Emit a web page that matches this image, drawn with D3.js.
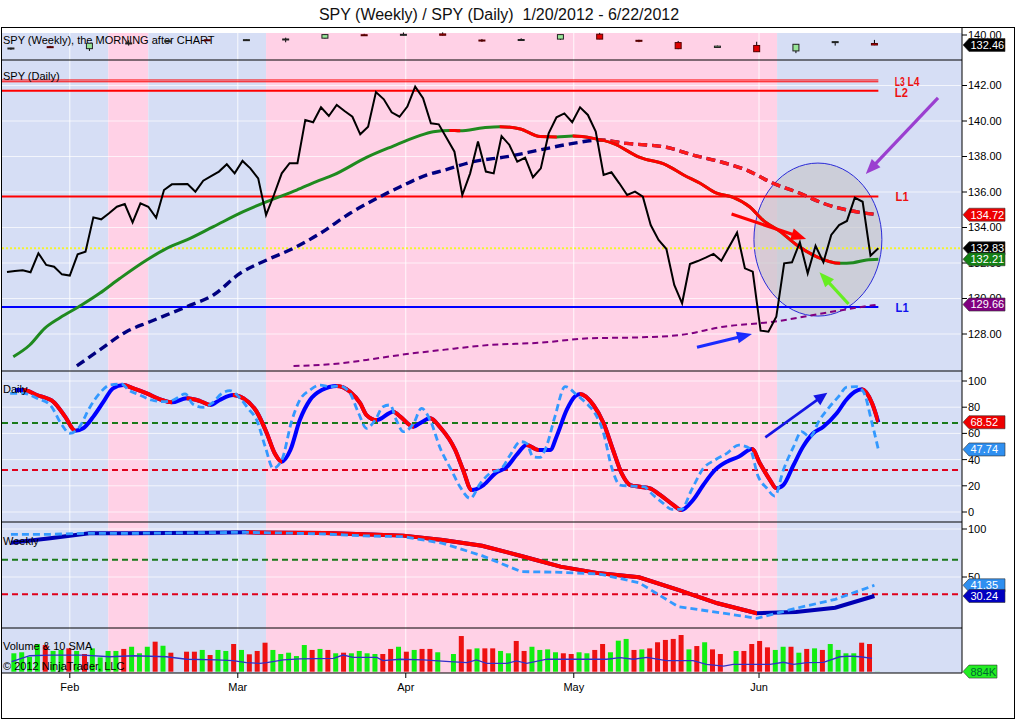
<!DOCTYPE html>
<html><head><meta charset="utf-8"><title>SPY Weekly / Daily</title>
<script src="https://cdn.jsdelivr.net/npm/d3@7/dist/d3.min.js"></script>
<style>
html,body{margin:0;padding:0;background:#fff}
svg{display:block}
text{font-family:"Liberation Sans",Arial,sans-serif;}
</style></head>
<body>
<svg id="chart" width="1016" height="720"></svg>
<script>
// ================= DATA =================
// daily closes per bar slot (null = empty slot on holidays)
const closes=[131.49,131.55,131.59,131.48,132.55,131.89,131.79,131.36,131.29,132.49,
132.64,134.57,134.46,134.80,135.17,135.32,134.29,135.36,135.17,134.55,
136.11,136.43,null,136.45,136.02,136.64,136.90,137.15,137.56,137.05,
137.75,137.33,136.77,134.70,135.83,137.05,137.62,137.62,140.06,139.93,
140.77,140.28,140.90,140.56,140.24,139.25,139.68,141.63,141.22,140.49,
140.24,140.81,141.93,141.28,139.87,139.81,null,138.27,135.83,137.05,
138.84,137.15,137.05,139.15,138.65,137.71,137.93,136.83,137.33,139.30,
140.21,140.43,139.93,140.77,140.34,139.40,136.96,137.11,136.49,135.83,
136.02,135.74,134.14,133.30,132.79,130.76,129.73,131.94,132.11,132.30,
132.51,132.13,null,133.71,131.70,131.51,128.19,128.13,128.97,131.98,
132.04,133.17,131.42,132.97,132.04,133.58,134.14,134.37,135.68,135.45,
132.41,132.83];

// moving averages: [slot, value]
const maSolid=[[0.8,126.72],[2.9,127.38],[4.8,128.32],[6.75,128.92],[9.5,129.63],[11.8,130.29],[14.4,131.14],[17.8,132.17],[20.8,132.92],[22.9,133.30],[26.3,134.05],[30.1,134.89],[33.1,135.46],[36.9,136.11],[39.4,136.58],[41.6,136.96],[45.8,137.95],[49.2,138.59],[52.2,139.12],[54.3,139.40],[56.4,139.47],[57.7,139.45],[60.7,139.62],[62.8,139.68],[65.4,139.55],[67.9,139.12],[70,139.10],[72.1,139.15],[74.7,139.02],[77.2,138.74],[80.6,137.95],[84.0,137.52],[86.2,136.96],[88.3,136.49],[90.4,135.93],[92.5,135.70],[94.6,135.17],[96.3,134.42],[98.5,133.77],[100.6,133.01],[103.1,132.36],[106.1,131.98],[107.8,132.02],[109.5,132.17],[111,132.21]];
const maDashed=[[8.9,126.20],[11.8,127.10],[15.2,128.13],[18.2,128.69],[22.9,129.54],[26.3,130.20],[29.7,131.42],[33.1,132.17],[36.5,132.83],[39.9,133.67],[43.7,134.80],[47.1,135.64],[50.1,136.30],[53.5,136.96],[55.8,137.24],[59.4,137.71],[63.7,137.99],[67.9,138.37],[72.1,138.74],[75.5,138.93],[78.9,138.74],[84.0,138.52],[87.4,138.08],[90.8,137.71],[94.2,137.24],[97.6,136.49],[101.0,135.93],[104.0,135.36],[107.4,134.95],[111,134.72]];
const maLong=[[36.5,126.20],[41.6,126.31],[45.8,126.54],[50.1,126.82],[55.8,127.12],[61.5,127.38],[67.9,127.51],[74.3,127.76],[80.6,127.81],[85.7,127.94],[91.3,128.41],[97.6,128.69],[104.0,129.17],[110.0,129.60],[111,129.66]];

// horizontal levels
const levelNames=["L3","L4","L2","L1","L1"];
const levelPrices=[142.31,142.21,141.71,135.74,129.52];
const lastClose=132.83;

// daily stochastics [slot, value]
const dailyD=[[1.0,93.1],[2.1,93.1],[3.8,89.3],[5.9,84.2],[7.4,72.8],[8.7,62.1],[9.7,63.9],[11.0,72.8],[12.3,84.2],[13.5,94.4],[14.8,96.9],[16.1,94.4],[17.8,90.6],[19.5,86.0],[21.0,83.7],[22.9,86.8],[24.6,84.7],[25.9,81.7],[27.1,85.5],[28.8,89.3],[30.1,86.8],[31.8,76.6],[33.1,60.1],[34.1,44.8],[35.0,38.4],[36.1,47.3],[37.3,70.2],[38.6,85.5],[40.1,93.1],[42.0,96.2],[43.7,91.8],[45.0,83.0],[45.8,74.0],[47.1,70.2],[49.2,76.6],[50.1,72.8],[51.8,65.1],[52.6,67.7],[53.9,71.5],[55.2,64.5],[57.1,47.3],[58.1,32.1],[59.2,16.8],[60.7,20.6],[62.2,29.5],[63.7,34.6],[64.9,43.5],[66.2,51.1],[67.7,47.3],[69.2,47.3],[70.0,57.5],[71.3,77.9],[72.4,88.5],[73.0,90.1],[74.7,81.7],[76.0,67.7],[77.2,47.3],[78.3,29.5],[79.4,20.6],[80.6,19.3],[81.9,18.1],[83.2,13.0],[84.9,5.3],[85.9,1.5],[87.4,9.2],[88.7,20.6],[90.2,32.1],[91.7,38.4],[93.2,42.2],[94.9,48.1],[95.9,37.2],[97.2,24.4],[98.0,18.1],[98.9,20.6],[100.2,35.9],[101.4,49.8],[102.7,60.1],[104.0,65.1],[105.7,75.3],[106.9,85.5],[108.0,91.8],[108.9,93.7],[110.2,83.0],[111,68.52]];
const dailyK=[[0.4,90.6],[2.1,90.6],[3.8,86.8],[5.5,81.7],[7.0,66.4],[8.0,60.1],[9.1,63.9],[10.6,80.4],[11.8,90.6],[13.1,96.9],[14.6,97.7],[15.5,93.1],[16.9,89.3],[18.4,85.5],[19.9,84.2],[21.2,85.5],[22.7,90.1],[23.7,82.2],[25.0,79.9],[26.1,83.0],[27.4,90.6],[28.4,92.6],[29.7,86.8],[30.7,79.1],[31.8,70.2],[32.9,49.8],[33.9,33.3],[35.0,39.7],[36.3,70.2],[37.3,85.5],[38.6,93.1],[39.9,96.9],[41.1,95.7],[42.4,96.2],[43.7,90.6],[44.8,75.3],[45.8,63.9],[46.9,70.2],[47.9,80.4],[48.8,81.7],[49.6,70.2],[50.5,61.3],[51.8,67.7],[52.8,79.1],[53.9,70.2],[55.2,48.5],[56.6,32.1],[57.7,19.3],[59.0,10.4],[60.3,21.9],[61.5,29.5],[63.0,33.3],[64.1,43.5],[65.4,53.7],[66.2,52.4],[67.0,42.2],[67.9,41.7],[68.7,49.8],[69.8,72.8],[71.1,95.7],[72.6,89.3],[73.8,83.0],[74.9,75.3],[76.0,60.1],[77.0,34.6],[78.1,20.6],[79.6,19.8],[81.1,19.3],[82.3,13.0],[83.6,6.6],[84.7,2.0],[85.9,2.0],[87.2,16.8],[88.7,33.3],[90.2,39.7],[91.7,44.8],[93.2,51.1],[94.6,48.6],[95.7,27.0],[96.8,18.1],[97.8,12.2],[98.9,32.1],[100.2,49.8],[101.2,61.3],[102.3,57.5],[103.5,70.2],[104.8,80.4],[106.1,89.3],[106.9,95.2],[108.2,95.7],[109.1,91.8],[110.2,67.7],[111,47.74]];

// weekly bars (slot positions) and weekly stochastics
const weeklySlots=[0.5,5.5,10.5,15.5,20.5,25.5,30.5,35.5,40.5,45.5,50.5,55.5,60.5,65.5,70.5,75.5,80.5,85.5,90.5,95.5,100.5,105.5,110.5];
const weeklyD=[85.7,90.3,95.5,95.5,95.8,96.2,96.5,96.2,95.8,94.5,93.1,88.5,82.6,71.9,60.8,53.8,49.7,36.5,22.6,12.2,13.5,18.0,30.24];
const weeklyK=[94.5,94.5,95.5,95.5,95.8,96.2,96.5,95.8,94.8,92.8,92.0,85.1,72.2,55.6,54.9,53.1,44.1,19.1,13.2,7.0,17.4,26.7,41.35];
const wOpen =[129.6,131.2,129.7,133.5,135.2,136.4,136.0,137.0,137.6,140.2,140.5,140.8,136.2,136.6,136.9,140.6,136.0,134.3,130.6,132.1,128.0,134.9,133.6];
const wHigh =[130.4,131.8,133.9,136.0,135.8,136.6,136.7,138.0,140.7,140.9,141.9,142.0,137.0,137.5,140.5,141.6,136.4,135.5,132.0,134.9,133.2,135.1,136.3];
const wLow  =[128.8,130.5,128.0,132.0,134.8,136.0,135.8,134.5,137.3,139.3,139.5,139.6,134.8,135.5,136.3,136.8,134.6,129.3,130.3,127.4,126.3,132.0,132.3];
const wClose=[130.2,131.0,133.8,134.0,135.6,136.2,136.5,137.0,140.3,139.7,140.5,139.8,136.0,136.6,140.3,136.9,135.7,129.7,131.6,127.4,133.0,135.0,132.46];

// volume (millions) per slot, up(1)/down(0), and 10 SMA [slot, value]
const volumes=[null,127,134,103,191,184,143,150,161,143,
122,161,99,143,143,157,172,127,172,207,
179,131,null,138,138,150,115,150,143,191,
150,120,143,200,150,122,131,108,184,150,
157,150,127,131,127,143,127,122,122,157,
172,138,150,157,157,134,null,122,246,154,
161,161,161,143,127,212,143,172,150,154,
134,127,122,134,127,150,191,134,214,226,
150,154,161,203,219,226,253,154,177,203,
154,122,null,143,143,191,212,168,150,172,
172,131,157,161,150,191,150,127,127,200,
191,0.884];
const volumeUp=[0,1,1,1,1,0,1,1,0,1, 0,1,1,1,1,0,1,1,1,0, 1,0,0,0,0,1,0,1,1,0, 1,0,0,0,1,1,1,1,1,0, 1,0,1,0,1,1,1,1,0,0, 1,0,1,0,0,1,0,1,0,0, 1,0,0,1,1,0,0,1,1,1, 1,0,0,1,1,0,0,1,1,1, 0,1,0,0,0,0,0,1,0,1, 0,0,0,1,0,0,0,0,1,1, 0,1,0,1,0,1,1,1,1,0, 0,1];
const volSma=[[0.6,69],[2.9,110],[5.5,115],[9.7,115],[13.1,103],[16.1,110],[20.3,103],[22.9,86],[26.7,81],[28.8,76],[30.5,62],[32.2,58],[33.1,62],[35.2,81],[37.3,88],[41.6,92],[42.8,115],[44.1,99],[47.1,99],[47.9,76],[50.1,86],[53.0,81],[56.4,69],[58.6,62],[59.8,81],[61.1,58],[63.7,58],[64.9,74],[66.2,58],[68.8,86],[72.1,86],[76.4,86],[78.1,97],[79.8,86],[81.5,99],[84.0,76],[87.4,76],[89.1,51],[91.3,39],[92.5,51],[95.5,51],[97.2,51],[98.9,65],[100.2,51],[101.9,62],[104.0,65],[106.1,103],[107.4,108],[108.7,103],[110.2,92]];

// axis ticks / labels
const monthLabels=["Feb","Mar","Apr","May","Jun"];
const monthSlots=[8.0,29.4,50.8,72.2,95.8];
const priceTicks=[142,140,138,136,134,132,130,128];
const dailyTicks=[100,80,60,40,20,0];
const weeklyTicks=[100,50];
const stochLevels=[68,32];
const bandSlots=[12.9,18.0,33.0,98.1];

// annotations (data coordinates)
const mainArrows=[
 {from:[92.3,134.76],to:[101.8,133.35],color:"#ff0000"},
 {from:[107.2,129.69],to:[103.5,131.48],color:"#66ee22"},
 {from:[87.9,127.25],to:[94.9,128.0],color:"#1a2cff"},
 {from:[118.6,141.30],to:[109.4,137.01],color:"#9b3fd0"}
];
const dailyArrow={from:[96.6,57.0],to:[104.5,91.1],color:"#1414e6"};
const circleCenter=[103.3,133.32], circleRadius=[8.15,4.31];

// ================= DRAWING =================
const svg=d3.select("#chart");
const defs=svg.append("defs");
const PL=2, PR=962;
const x=d3.scaleLinear().domain([0,111]).range([7,878.35]);
const yP=d3.scaleLinear().domain([140,128]).range([121,334]);
const yD=d3.scaleLinear().domain([100,0]).range([381,512]);
const yW=d3.scaleLinear().domain([100,50]).range([529,577]);
const yV=d3.scaleLinear().domain([0,300]).range([671.7,628.2]);
const yT=d3.scaleLinear().domain([140,132.46]).range([35,45]);

svg.append("rect").attr("width",1016).attr("height",720).attr("fill","#fff");

svg.append("text").attr("x",499).attr("y",20).attr("text-anchor","middle")
  .attr("font-size",16).attr("fill","#111").attr("xml:space","preserve").style("white-space","pre")
  .text("SPY (Weekly) / SPY (Daily)  1/20/2012 - 6/22/2012");

const bandColor=["#d6def5","#ffd1e6"];
function bands(y0,y1){
  const e=[-10,...bandSlots,200];
  for(let i=0;i<e.length-1;i++){
    const a=Math.max(PL,x(e[i])), b=Math.min(PR,x(e[i+1]));
    if(b>a) svg.append("rect").attr("x",a).attr("y",y0).attr("width",b-a).attr("height",y1-y0).attr("fill",bandColor[i%2]);
  }
  monthSlots.forEach(s=>svg.append("line").attr("x1",x(s)).attr("x2",x(s)).attr("y1",y0).attr("y2",y1).attr("stroke","#fff").attr("stroke-opacity",0.85).attr("stroke-width",1));
}
function hgrid(vals,sc){
  vals.forEach(v=>svg.append("line").attr("x1",PL).attr("x2",PR).attr("y1",sc(v)).attr("y2",sc(v)).attr("stroke","#fff").attr("stroke-opacity",0.7).attr("stroke-width",1));
}
let clipN=0;
function panelGroup(y0,y1){
  const id="pc"+(clipN++);
  defs.append("clipPath").attr("id",id).append("rect").attr("x",PL).attr("y",y0).attr("width",PR-PL).attr("height",y1-y0);
  return svg.append("g").attr("clip-path",`url(#${id})`);
}
function twoTone(g,nodes,ys,upC,dnC,w,dash,y0,y1,curve){
  const line=d3.line().x(d=>x(d[0])).y(d=>ys(d[1])).curve(curve||d3.curveMonotoneX);
  const d=line(nodes);
  const p=g.append("path").attr("d",d).attr("fill","none").attr("stroke",upC).attr("stroke-width",w);
  if(dash) p.attr("stroke-dasharray",dash);
  const id="tt"+(clipN++);
  const cp=defs.append("clipPath").attr("id",id);
  for(let i=1;i<nodes.length;i++){
    if(nodes[i][1]<nodes[i-1][1]){
      const a=x(nodes[i-1][0]), b=x(nodes[i][0]);
      cp.append("rect").attr("x",a-0.3).attr("y",y0).attr("width",b-a+0.6).attr("height",y1-y0);
    }
  }
  const q=g.append("path").attr("d",d).attr("fill","none").attr("stroke",dnC).attr("stroke-width",w).attr("clip-path",`url(#${id})`);
  if(dash) q.attr("stroke-dasharray",dash);
}
function arrow(g,x1,y1,x2,y2,color,w,hl,hw){
  const dx=x2-x1, dy=y2-y1, len=Math.hypot(dx,dy), ux=dx/len, uy=dy/len;
  const bx=x2-ux*hl, by=y2-uy*hl;
  g.append("line").attr("x1",x1).attr("y1",y1).attr("x2",bx+ux).attr("y2",by+uy).attr("stroke",color).attr("stroke-width",w);
  g.append("path").attr("d",`M${x2},${y2}L${bx-uy*hw/2},${by+ux*hw/2}L${bx+uy*hw/2},${by-ux*hw/2}Z`).attr("fill",color);
}
function axisTicks(vals,sc,fmt){
  vals.forEach(v=>{
    const y=sc(v);
    svg.append("line").attr("x1",PR).attr("x2",PR+5).attr("y1",y).attr("y2",y).attr("stroke","#000");
    svg.append("text").attr("x",PR+6).attr("y",y).attr("dy","0.36em").attr("font-size",11).attr("fill","#000").text(fmt(v));
  });
}
function tag(y,txt,fill,tc,right){
  right=right||1005;
  svg.append("path").attr("d",`M963,${y}L969,${y-6.5}L${right},${y-6.5}L${right},${y+6.5}L969,${y+6.5}Z`)
    .attr("fill",fill).attr("stroke","#333").attr("stroke-width",0.6);
  svg.append("text").attr("x",970.5).attr("y",y).attr("dy","0.36em").attr("font-size",11).attr("fill",tc).text(txt);
}
function label(xp,yp,t){
  svg.append("text").attr("x",xp).attr("y",yp).attr("font-size",11).attr("fill","#000").text(t);
}

// ---------- top panel: weekly candles ----------
bands(33,60);
{
  label(3,44,"SPY (Weekly), the MORNING after CHART");
  const g=panelGroup(27,60);
  weeklySlots.forEach((s,i)=>{
    const cx=x(s), up=wClose[i]>=wOpen[i];
    g.append("line").attr("x1",cx).attr("x2",cx).attr("y1",yT(wHigh[i])).attr("y2",yT(wLow[i])).attr("stroke","#000").attr("stroke-width",1);
    const top=yT(Math.max(wOpen[i],wClose[i])), bot=yT(Math.min(wOpen[i],wClose[i]));
    const h=Math.max(1,bot-top);
    g.append("rect").attr("x",cx-3).attr("y",top).attr("width",6).attr("height",h)
      .attr("fill",up?"#98e698":"#e00000").attr("stroke",up?"#222":"#500").attr("stroke-width",1);
  });
}

// ---------- main panel ----------
bands(60,371);
hgrid(priceTicks,yP);
{
  const g=panelGroup(60,371);
  // circle highlight
  g.append("ellipse").attr("cx",x(circleCenter[0])).attr("cy",yP(circleCenter[1]))
    .attr("rx",x(circleCenter[0]+circleRadius[0])-x(circleCenter[0]))
    .attr("ry",yP(circleCenter[1]-circleRadius[1])-yP(circleCenter[1]))
    .attr("fill","rgba(200,200,205,0.7)").attr("stroke","#2a2ad8").attr("stroke-width",1);
  // level lines
  const lw=[1,1,2,2,2], lc=["#ff0000","#ff0000","#ff0000","#ff0000","#0000ff"];
  levelPrices.forEach((p,i)=>g.append("line").attr("x1",PL).attr("x2",x(111)).attr("y1",yP(p)).attr("y2",yP(p)).attr("stroke",lc[i]).attr("stroke-width",lw[i]));
  g.append("line").attr("x1",PL).attr("x2",PR).attr("y1",yP(lastClose)).attr("y2",yP(lastClose))
    .attr("stroke","#f2f230").attr("stroke-width",2).attr("stroke-dasharray","2,2");
  // moving averages
  g.append("path").attr("d",d3.line().x(d=>x(d[0])).y(d=>yP(d[1])).curve(d3.curveMonotoneX)(maLong))
    .attr("fill","none").attr("stroke","#800080").attr("stroke-width",2).attr("stroke-dasharray","6,4");
  twoTone(g,maDashed,yP,"#000080","#ff1a1a",3.4,"9,5",60,371);
  twoTone(g,maSolid,yP,"#1f8a1f","#ff0000",3,null,60,371);
  // price
  const pts=closes.map((v,i)=>[i,v]).filter(d=>d[1]!=null);
  g.append("path").attr("d",d3.line().x(d=>x(d[0])).y(d=>yP(d[1]))(pts))
    .attr("fill","none").attr("stroke","#000").attr("stroke-width",2);
  // arrows
  mainArrows.forEach(a=>arrow(g,x(a.from[0]),yP(a.from[1]),x(a.to[0]),yP(a.to[1]),a.color,3.2,15,12));
  // level labels
  const lx=[113.1,114.7,113.1,113.2,113.2], ly=[142.25,142.25,141.60,135.74,129.52];
  const tc=["#ee1111","#ee1111","#ee1111","#ee1111","#1010ee"];
  const fs=[13,13,13,13,13], tl=[10,12,13,13,13];
  levelNames.forEach((n,i)=>g.append("text").attr("x",x(lx[i])).attr("y",yP(ly[i])).attr("dy","0.36em")
    .attr("font-size",fs[i]).attr("font-weight","bold").attr("fill",tc[i])
    .attr("textLength",tl[i]).attr("lengthAdjust","spacingAndGlyphs").text(n));
  label(3,80,"SPY (Daily)");
}

// ---------- daily stochastics ----------
bands(371,522);
hgrid(dailyTicks,yD);
{
  const g=panelGroup(371,522);
  const lc=["#1a7a1a","#e0001b"];
  stochLevels.forEach((v,i)=>g.append("line").attr("x1",PL).attr("x2",PR).attr("y1",yD(v)).attr("y2",yD(v)).attr("stroke",lc[i]).attr("stroke-width",2).attr("stroke-dasharray","6,4"));
  twoTone(g,dailyD,yD,"#0000ff","#ff0000",4,null,371,522);
  g.append("path").attr("d",d3.line().x(d=>x(d[0])).y(d=>yD(d[1])).curve(d3.curveMonotoneX)(dailyK))
    .attr("fill","none").attr("stroke","#3399ff").attr("stroke-width",2.8).attr("stroke-dasharray","7,4");
  arrow(g,x(dailyArrow.from[0]),yD(dailyArrow.from[1]),x(dailyArrow.to[0]),yD(dailyArrow.to[1]),dailyArrow.color,2.6,13,12);
  label(3,393,"Daily");
}

// ---------- weekly stochastics ----------
bands(522,628);
hgrid(weeklyTicks,yW);
{
  const g=panelGroup(522,628);
  const lc=["#1a7a1a","#e0001b"];
  stochLevels.forEach((v,i)=>g.append("line").attr("x1",PL).attr("x2",PR).attr("y1",yW(v)).attr("y2",yW(v)).attr("stroke",lc[i]).attr("stroke-width",2).attr("stroke-dasharray","6,4"));
  const dn=weeklySlots.map((s,i)=>[s,weeklyD[i]]);
  const kn=weeklySlots.map((s,i)=>[s,weeklyK[i]]);
  twoTone(g,dn,yW,"#0000b4","#ff0000",4,null,522,628,d3.curveLinear);
  g.append("path").attr("d",d3.line().x(d=>x(d[0])).y(d=>yW(d[1]))(kn))
    .attr("fill","none").attr("stroke","#3399ff").attr("stroke-width",2.8).attr("stroke-dasharray","7,4");
  label(3,545,"Weekly");
}

// ---------- volume ----------
bands(628,673);
{
  const g=panelGroup(628,673);
  volumes.forEach((v,i)=>{
    if(v==null) return;
    g.append("rect").attr("x",x(i)-3.5).attr("y",yV(v)).attr("width",5).attr("height",yV(0)-yV(v))
      .attr("fill",volumeUp[i]?"#11ee11":"#ee1111");
  });
  g.append("path").attr("d",d3.line().x(d=>x(d[0])).y(d=>yV(d[1]))(volSma))
    .attr("fill","none").attr("stroke","#3030c8").attr("stroke-width",1.3);
  label(3,650,"Volume & 10 SMA");
  label(3,670,"© 2012 NinjaTrader, LLC");
}

// ---------- frame, separators, axes ----------
[60,371,522,628,673].forEach(y=>svg.append("line").attr("x1",PL).attr("x2",PR).attr("y1",y).attr("y2",y).attr("stroke","#000").attr("stroke-width",1));
svg.append("line").attr("x1",PR).attr("x2",PR).attr("y1",27).attr("y2",673).attr("stroke","#000");
svg.append("line").attr("x1",PL-0.5).attr("x2",PL-0.5).attr("y1",27).attr("y2",673).attr("stroke","#000");
svg.append("rect").attr("x",1.5).attr("y",27.5).attr("width",1013).attr("height",691).attr("fill","none").attr("stroke","#000");

axisTicks([140],yT,v=>v.toFixed(2));
axisTicks(priceTicks,yP,v=>v.toFixed(2));
axisTicks(dailyTicks,yD,v=>String(v));
axisTicks(weeklyTicks,yW,v=>String(v));

monthSlots.forEach((s,i)=>{
  svg.append("line").attr("x1",x(s)).attr("x2",x(s)).attr("y1",673).attr("y2",678).attr("stroke","#000");
  svg.append("text").attr("x",x(s)).attr("y",691).attr("text-anchor","middle").attr("font-size",11).attr("fill","#000").text(monthLabels[i]);
});

// value tags
tag(yT(wClose[wClose.length-1]),"132.46","#000","#fff");
tag(yP(maDashed[maDashed.length-1][1]),"134.72","#ee0000","#fff");
tag(yP(lastClose),"132.83","#000","#fff");
tag(yP(maSolid[maSolid.length-1][1]),"132.21","#138013","#fff");
tag(yP(maLong[maLong.length-1][1]),"129.66","#800080","#fff");
tag(yD(dailyD[dailyD.length-1][1]),"68.52","#ee0000","#fff");
tag(yD(dailyK[dailyK.length-1][1]),"47.74","#2f8ff0","#fff");
tag(yW(weeklyK[weeklyK.length-1]),"41.35","#2f8ff0","#fff");
tag(yW(weeklyD[weeklyD.length-1]),"30.24","#0000c0","#fff");
tag(yV(volumes[volumes.length-1]),"884K","#22ee22","#063",997);
</script>
</body></html>
